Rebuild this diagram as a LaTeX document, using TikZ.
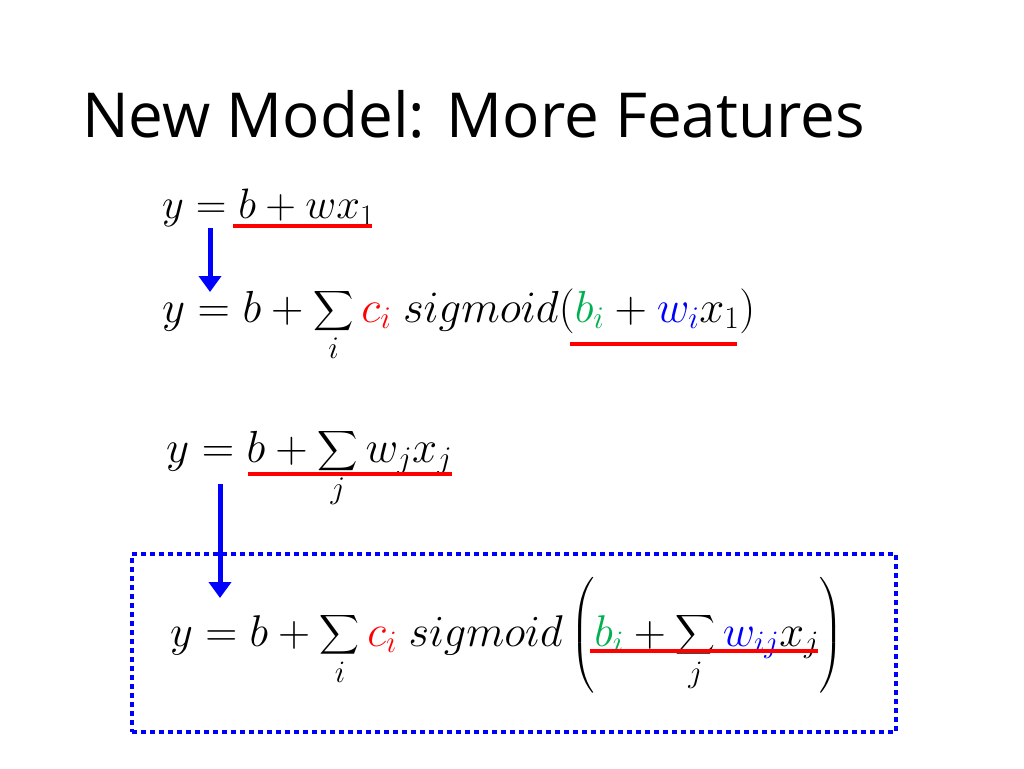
\RequirePackage{fix-cm}
\documentclass[tikz,border=0pt]{standalone}
\usepackage{amsmath}
\usepackage{graphicx}
\usepackage{fontspec}
\setmainfont{Open Sans}
\usetikzlibrary{arrows.meta}
\definecolor{eqgreen}{RGB}{0,176,80}
\begin{document}
\begin{tikzpicture}[x=1pt,y=-1pt,
  eq/.style={anchor=west,inner sep=0pt,font=\fontsize{40}{48}\selectfont},
  red line/.style={red,line width=3.5pt},
  down/.style={blue,line width=5pt,-{Triangle[length=16pt,width=22pt]}}]
\useasboundingbox (0,0) rectangle (1024,768);
\node[anchor=west,inner sep=0pt,font=\fontsize{62}{70}\selectfont] (title) at (82,114) {New Model: More Features};
\node[eq] (e1) at (162,208) {\resizebox{212pt}{!}{$y = b + wx_1$}};
\node[eq] (e2) at (162,325) {\resizebox{593pt}{!}{$\displaystyle y = b + \sum_i \textcolor{red}{c_i}\ \mathnormal{sigmoid}(\textcolor{eqgreen}{b_i} + \textcolor{blue}{w_i}x_1)$}};
\node[eq] (e3) at (166,468) {\resizebox{286pt}{!}{$\displaystyle y = b + \sum_j w_jx_j$}};
\node[eq] (e4) at (170,635) {\resizebox{673pt}{!}{$\displaystyle y = b + \sum_i \textcolor{red}{c_i}\ \mathnormal{sigmoid}\left(\textcolor{eqgreen}{b_i} + \sum_j \textcolor{blue}{w_{ij}}x_j\right)$}};
\coordinate (u1a) at (233,226); \coordinate (u1b) at (372,226);
\draw[red line] (u1a) -- (u1b);
\coordinate (u2a) at (570,344); \coordinate (u2b) at (737,344);
\draw[red line] (u2a) -- (u2b);
\coordinate (u3a) at (248,474); \coordinate (u3b) at (452,474);
\draw[red line] (u3a) -- (u3b);
\coordinate (u4a) at (590,651); \coordinate (u4b) at (818,651);
\draw[red line] (u4a) -- (u4b);
\coordinate (a1) at (210,228); \coordinate (a1e) at (210,292);
\draw[down] (a1) -- (a1e);
\coordinate (a2) at (220,484); \coordinate (a2e) at (220,598);
\draw[down] (a2) -- (a2e);
\node[draw=blue,line width=4pt,dash pattern=on 5pt off 4pt,minimum width=764pt,minimum height=178pt,anchor=north west,inner sep=0pt] (box) at (130,552) {};
\end{tikzpicture}
\end{document}
